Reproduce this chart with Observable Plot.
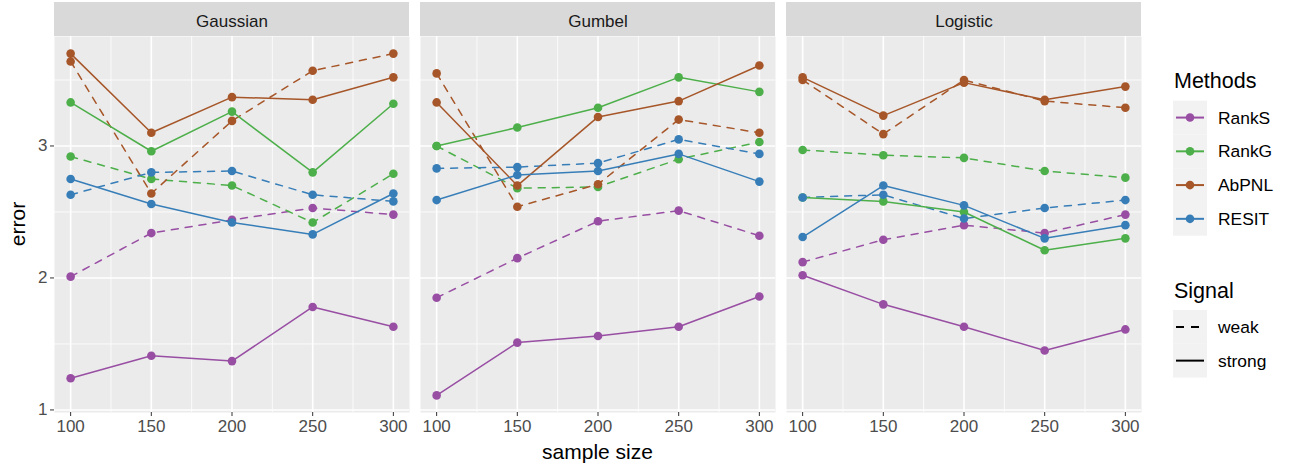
<!DOCTYPE html>
<html><head><meta charset="utf-8">
<script src="https://cdn.jsdelivr.net/npm/d3@7"></script>
<script src="https://cdn.jsdelivr.net/npm/@observablehq/plot@0.6"></script>
<style>
body{margin:0;background:#fff;font-family:"Liberation Sans",Arial,Helvetica,sans-serif;}
#wrap{position:relative;width:1291px;height:467px;overflow:hidden;}
#legend{position:absolute;left:1150px;top:0;}
#chart{position:absolute;left:0;top:0;}
</style></head><body>
<div id="wrap"><div id="chart"></div><div id="legend"></div></div>
<script>
const sampleSizes = [100, 150, 200, 250, 300];
const minorX = [125, 175, 225, 275];
const distributions = ["Gaussian", "Gumbel", "Logistic"];
const methods = ["RankS", "RankG", "AbPNL", "RESIT"];
const methodColors = ["#984EA3", "#4DAF4A", "#A65628", "#377EB8"];
const signals = ["weak", "strong"];
const yTicks = [1, 2, 3];
const yMinor = [1.5, 2.5, 3.5];

// Gaussian
const gaussianRankSStrong = [1.24, 1.41, 1.37, 1.78, 1.63];
const gaussianRankSWeak   = [2.01, 2.34, 2.44, 2.53, 2.48];
const gaussianRankGStrong = [3.33, 2.96, 3.26, 2.80, 3.32];
const gaussianRankGWeak   = [2.92, 2.75, 2.70, 2.42, 2.79];
const gaussianAbPNLStrong = [3.70, 3.10, 3.37, 3.35, 3.52];
const gaussianAbPNLWeak   = [3.64, 2.64, 3.19, 3.57, 3.70];
const gaussianRESITStrong = [2.75, 2.56, 2.42, 2.33, 2.64];
const gaussianRESITWeak   = [2.63, 2.80, 2.81, 2.63, 2.58];
// Gumbel
const gumbelRankSStrong = [1.11, 1.51, 1.56, 1.63, 1.86];
const gumbelRankSWeak   = [1.85, 2.15, 2.43, 2.51, 2.32];
const gumbelRankGStrong = [3.00, 3.14, 3.29, 3.52, 3.41];
const gumbelRankGWeak   = [3.00, 2.68, 2.69, 2.90, 3.03];
const gumbelAbPNLStrong = [3.33, 2.70, 3.22, 3.34, 3.61];
const gumbelAbPNLWeak   = [3.55, 2.54, 2.71, 3.20, 3.10];
const gumbelRESITStrong = [2.59, 2.78, 2.81, 2.94, 2.73];
const gumbelRESITWeak   = [2.83, 2.84, 2.87, 3.05, 2.94];
// Logistic
const logisticRankSStrong = [2.02, 1.80, 1.63, 1.45, 1.61];
const logisticRankSWeak   = [2.12, 2.29, 2.40, 2.34, 2.48];
const logisticRankGStrong = [2.61, 2.58, 2.50, 2.21, 2.30];
const logisticRankGWeak   = [2.97, 2.93, 2.91, 2.81, 2.76];
const logisticAbPNLStrong = [3.52, 3.23, 3.48, 3.35, 3.45];
const logisticAbPNLWeak   = [3.50, 3.09, 3.50, 3.34, 3.29];
const logisticRESITStrong = [2.31, 2.70, 2.55, 2.30, 2.40];
const logisticRESITWeak   = [2.61, 2.63, 2.45, 2.53, 2.59];

const series = {
  Gaussian: {
    RankS: {strong: gaussianRankSStrong, weak: gaussianRankSWeak},
    RankG: {strong: gaussianRankGStrong, weak: gaussianRankGWeak},
    AbPNL: {strong: gaussianAbPNLStrong, weak: gaussianAbPNLWeak},
    RESIT: {strong: gaussianRESITStrong, weak: gaussianRESITWeak}
  },
  Gumbel: {
    RankS: {strong: gumbelRankSStrong, weak: gumbelRankSWeak},
    RankG: {strong: gumbelRankGStrong, weak: gumbelRankGWeak},
    AbPNL: {strong: gumbelAbPNLStrong, weak: gumbelAbPNLWeak},
    RESIT: {strong: gumbelRESITStrong, weak: gumbelRESITWeak}
  },
  Logistic: {
    RankS: {strong: logisticRankSStrong, weak: logisticRankSWeak},
    RankG: {strong: logisticRankGStrong, weak: logisticRankGWeak},
    AbPNL: {strong: logisticAbPNLStrong, weak: logisticAbPNLWeak},
    RESIT: {strong: logisticRESITStrong, weak: logisticRESITWeak}
  }
};

const rows = [];
for (const dist of distributions)
  for (const m of methods)
    for (const s of signals)
      series[dist][m][s].forEach((v, i) => rows.push({dist, method: m, signal: s, n: sampleSizes[i], err: v}));

const yExt = d3.extent(rows, d => d.err);
const yPad = (yExt[1] - yExt[0]) * 0.05;
const xExt = d3.extent(sampleSizes);
const xPad = (xExt[1] - xExt[0]) * 0.05;

const FONT = '"Liberation Sans", Arial, Helvetica, sans-serif';
const W = 1150, H = 467, ML = 53, MR = 8, MT = 36, MB = 55;

const chart = Plot.plot({
  width: W, height: H,
  marginLeft: ML, marginRight: MR, marginTop: MT, marginBottom: MB,
  style: {fontFamily: FONT, background: "transparent", overflow: "visible"},
  fx: {domain: distributions, paddingInner: 0.0287, paddingOuter: 0, label: null},
  x: {domain: [xExt[0] - xPad, xExt[1] + xPad], label: null},
  y: {domain: [yExt[0] - yPad, yExt[1] + yPad], label: null},
  color: {domain: methods, range: methodColors},
  marks: [
    Plot.frame({fill: "#EBEBEB", stroke: null}),
    Plot.gridX(minorX, {stroke: "#fff", strokeOpacity: 1, strokeWidth: 0.8}),
    Plot.gridY(yMinor, {stroke: "#fff", strokeOpacity: 1, strokeWidth: 0.8}),
    Plot.gridX(sampleSizes, {stroke: "#fff", strokeOpacity: 1, strokeWidth: 1.6}),
    Plot.gridY(yTicks, {stroke: "#fff", strokeOpacity: 1, strokeWidth: 1.6}),
    Plot.axisX(sampleSizes, {anchor: "bottom", tickSize: 4, tickPadding: 3, fontSize: 17, stroke: "#333", fill: "#4D4D4D", label: null, tickFormat: d => String(d)}),
    Plot.axisY(yTicks, {anchor: "left", tickSize: 4, tickPadding: 3, fontSize: 17, stroke: "#333", fill: "#4D4D4D", label: null, tickFormat: d => String(d)}),
    Plot.axisFx({anchor: "top", tickSize: 0, tickPadding: 10, fontSize: 17, fill: "#1A1A1A", label: null}),
    Plot.line(rows.filter(d => d.signal === "weak"), {fx: "dist", x: "n", y: "err", z: "method", stroke: "method", strokeWidth: 1.5, strokeDasharray: "7,7"}),
    Plot.line(rows.filter(d => d.signal === "strong"), {fx: "dist", x: "n", y: "err", z: "method", stroke: "method", strokeWidth: 1.5}),
    Plot.dot(rows, {fx: "dist", x: "n", y: "err", fill: "method", r: 4.3, stroke: null})
  ]
});
document.getElementById("chart").appendChild(chart);

// strips behind facet labels
const svg = d3.select(chart);
const fx = chart.scale("fx");
const strips = svg.insert("g", ":first-child");
for (const d of distributions) {
  strips.append("rect")
    .attr("x", fx.apply(d)).attr("y", 2)
    .attr("width", fx.bandwidth).attr("height", MT - 2)
    .attr("fill", "#D9D9D9");
}
// axis titles
svg.append("text").text("sample size")
  .attr("x", (ML + (W - MR)) / 2).attr("y", 459)
  .attr("text-anchor", "middle").attr("font-size", 21).attr("fill", "#000").attr("font-family", FONT);
svg.append("text").text("error")
  .attr("transform", `translate(25,${(MT + H - MB) / 2}) rotate(-90)`)
  .attr("text-anchor", "middle").attr("font-size", 21).attr("fill", "#000").attr("font-family", FONT);

// legend
const lg = d3.select("#legend").append("svg").attr("width", 141).attr("height", 467)
  .attr("font-family", FONT);
const color = chart.scale("color");
lg.append("text").text("Methods").attr("x", 24).attr("y", 88).attr("font-size", 21.5).attr("fill", "#000");
const keyH = 33.75, keyX = 23, keyW = 34;
methods.forEach((m, i) => {
  const y0 = 100.7 + i * keyH;
  lg.append("rect").attr("x", keyX).attr("y", y0).attr("width", keyW).attr("height", keyH).attr("fill", "#F2F2F2");
  const cy = y0 + keyH / 2;
  lg.append("line").attr("x1", keyX + 3).attr("x2", keyX + keyW - 3).attr("y1", cy).attr("y2", cy)
    .attr("stroke", color.apply(m)).attr("stroke-width", 2);
  lg.append("circle").attr("cx", keyX + keyW / 2).attr("cy", cy).attr("r", 4.3).attr("fill", color.apply(m));
  lg.append("text").text(m).attr("x", 68).attr("y", cy + 6).attr("font-size", 17.4).attr("fill", "#000");
});
lg.append("text").text("Signal").attr("x", 24).attr("y", 298).attr("font-size", 21.5).attr("fill", "#000");
signals.forEach((s, i) => {
  const y0 = 310 + i * keyH;
  lg.append("rect").attr("x", keyX).attr("y", y0).attr("width", keyW).attr("height", keyH).attr("fill", "#F2F2F2");
  const cy = y0 + keyH / 2;
  lg.append("line").attr("x1", keyX + 3).attr("x2", keyX + keyW - 3).attr("y1", cy).attr("y2", cy)
    .attr("stroke", "#000").attr("stroke-width", 2)
    .attr("stroke-dasharray", s === "weak" ? "8,7" : null);
  lg.append("text").text(s).attr("x", 68).attr("y", cy + 6).attr("font-size", 17.4).attr("fill", "#000");
});
</script>
</body></html>
